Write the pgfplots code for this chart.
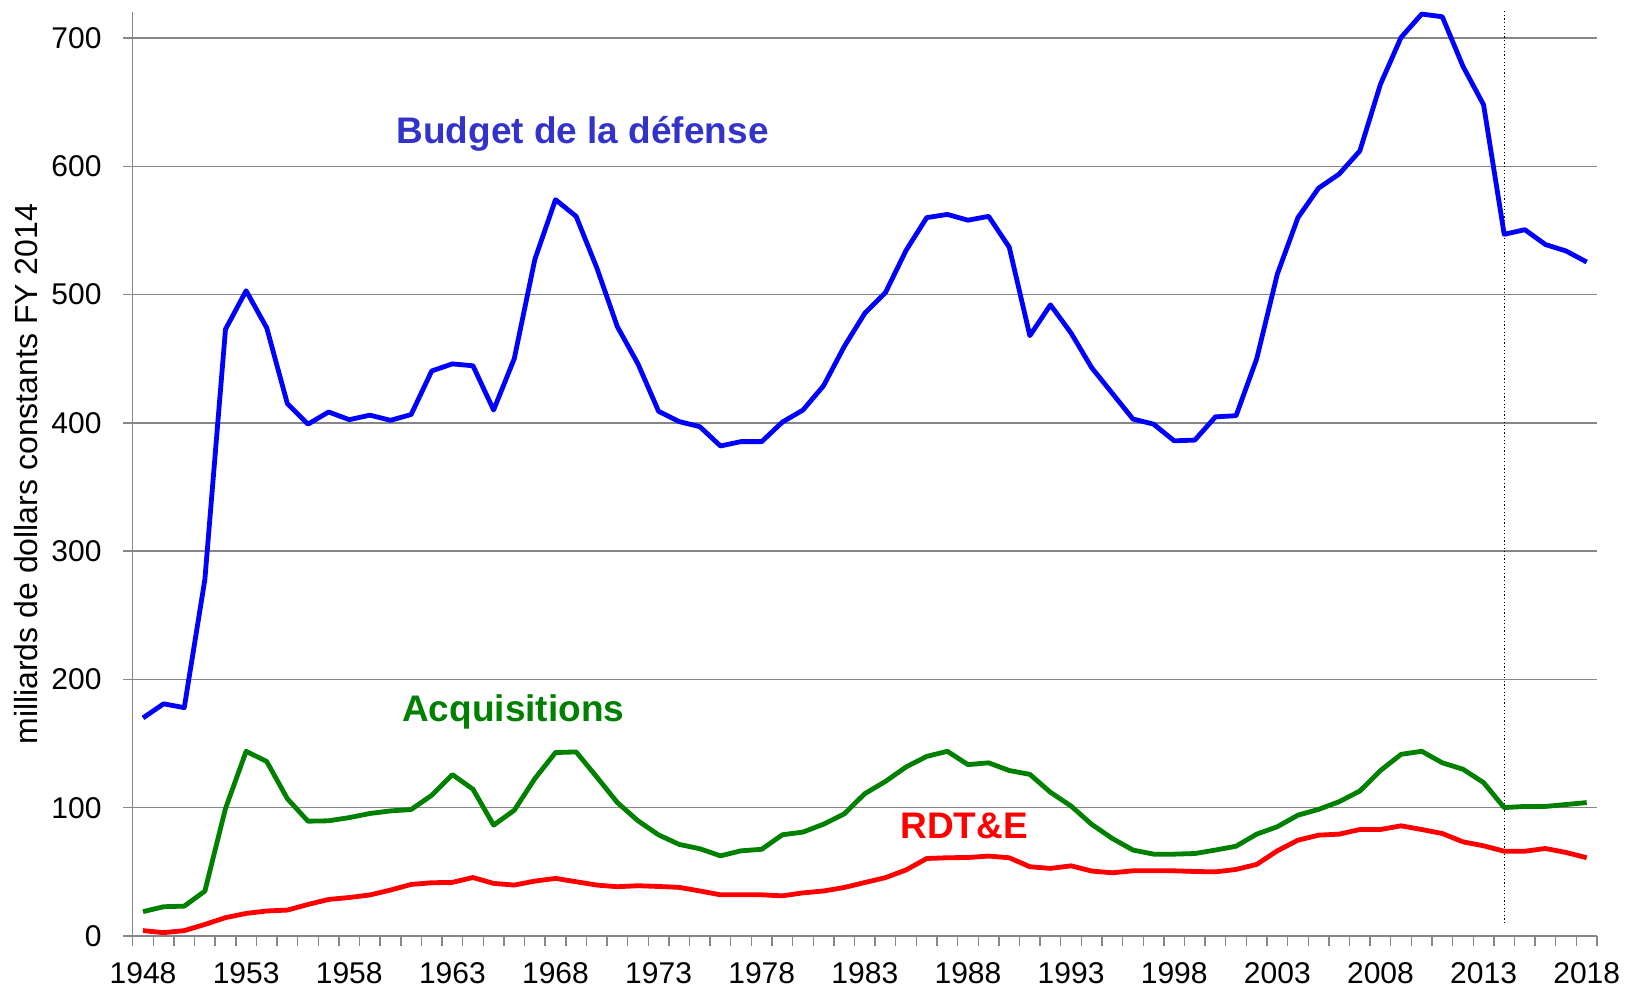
\documentclass[border=0pt]{standalone}
\usepackage{fontspec}
\setmainfont{Liberation Sans}
\usepackage{pgfplots}
\usepackage{pgfplotstable}
\pgfplotsset{compat=1.18}
\definecolor{gridgray}{RGB}{134,134,134}
\definecolor{acqgreen}{RGB}{0,128,0}
\definecolor{budgetblue}{RGB}{51,51,204}
\definecolor{lineblue}{RGB}{0,0,255}
\definecolor{linered}{RGB}{255,0,0}

\pgfplotstableread{
year budget acq rdte
1948 170 19 4.2
1949 181 22.8 2.6
1950 178 23.3 4.2
1951 278 35 9
1952 473 99.4 14.3
1953 503 144 17.6
1954 474 136 19.5
1955 415 107 20.2
1956 399 89.5 24.6
1957 408.5 89.8 28.5
1958 402.5 92.3 30
1959 406 95.5 32
1960 402 97.5 35.8
1961 406.5 98.6 40.2
1962 440.5 109.7 41.5
1963 446 125.8 41.8
1964 444.5 114.4 45.6
1965 410 86.4 41
1966 450 98 39.7
1967 527.5 122.7 42.8
1968 574 143 44.9
1969 561 143.5 42.3
1970 521 124 39.7
1971 475 104 38.4
1972 446 89.8 39.2
1973 409 78.8 38.6
1974 401 71.4 37.9
1975 397 68 35.1
1976 382 62.5 32.1
1977 385.4 66.4 32.1
1978 385.4 67.6 32.1
1979 400.6 78.9 31.3
1980 410 81 33.6
1981 429 87.2 35.1
1982 459.5 95.2 37.8
1983 485.5 111 41.7
1984 501.6 120.5 45.5
1985 534.5 131.8 51.5
1986 560 140 60.4
1987 562.5 144 61
1988 558 133.6 61.2
1989 561 135 62.3
1990 537 129 61
1991 468 126 54
1992 492 112 52.7
1993 470 101.3 54.7
1994 443 87 50.6
1995 423 76 49.3
1996 403 67 50.8
1997 399 63.8 50.8
1998 386 63.8 50.8
1999 386.6 64.3 50.3
2000 404.7 67 50
2001 405.6 70 51.9
2002 450 79.4 55.8
2003 516 85.2 66.4
2004 560 94.2 74.7
2005 583 98.7 78.6
2006 594 104.7 79.4
2007 612 113 83
2008 664 129 83
2009 700.5 141.6 85.9
2010 718.7 144 83
2011 716.6 135 79.9
2012 678 130 73.4
2013 648 119.6 70.3
2014 547 100.1 66.1
2015 550.6 101 66.1
2016 539 101 68.2
2017 534 102.5 65.1
2018 525.4 104 61
}\data

\begin{document}
\begin{tikzpicture}
\begin{axis}[
  name=ax,
  scale only axis, width=732.15pt, height=461.8pt,
  xmin=1947.5, xmax=2018.5, ymin=0, ymax=720,
  clip=false,
  axis x line*=bottom, axis y line*=left,
  axis line style={draw=gridgray, line width=0.7pt},
  xtick={1948,1953,...,2018},
  minor xtick={1947.5,1948.5,...,2018.5},
  ytick={0,100,...,700},
  minor ytick={0,100,...,700},
  major tick length=0pt, minor tick length=4.8pt,
  tick align=outside,
  tick style={draw=gridgray, line width=0.7pt},
  ymajorgrids, major grid style={draw=gridgray, line width=0.7pt},
  /pgf/number format/assume math mode=true,
  /pgf/number format/1000 sep={},
  ticklabel style={font=\fontsize{15}{18}\selectfont, text=black},
  xticklabel style={inner sep=0pt, anchor=north, yshift=-13.3pt},
  yticklabel style={inner sep=0pt, anchor=east, xshift=-15.4pt},
  ylabel={milliards de dollars constants FY 2014},
  every axis y label/.style={at={(axis description cs:-0.0729,0.5)}, rotate=90, anchor=center, font=\fontsize{16}{19}\selectfont},
]
\addplot[black, line width=0.6pt, dash pattern=on 0.6pt off 1.2pt] coordinates {(2014,10) (2014,721)};
\addplot[linered, line width=2.4pt, line join=round] table[x=year,y=rdte]{\data};
\addplot[acqgreen, line width=2.4pt, line join=round] table[x=year,y=acq]{\data};
\addplot[lineblue, line width=2.4pt, line join=round] table[x=year,y=budget]{\data};
\node[anchor=base west, text=budgetblue, font=\bfseries\fontsize{18.5}{22}\selectfont, inner sep=0pt] at (axis cs:1960.27,617.9) {Budget de la défense};
\node[anchor=base west, text=acqgreen, font=\bfseries\fontsize{18.5}{22}\selectfont, inner sep=0pt] at (axis cs:1960.55,167) {Acquisitions};
\node[anchor=base west, text=linered, font=\bfseries\fontsize{18.5}{22}\selectfont, inner sep=0pt] at (axis cs:1984.71,76) {RDT\&E};
\end{axis}
\pgfresetboundingbox
\path[use as bounding box] ([xshift=-66.35pt,yshift=-26.5pt]ax.south west) rectangle ([xshift=14.5pt,yshift=6.2pt]ax.north east);
\end{tikzpicture}
\end{document}
